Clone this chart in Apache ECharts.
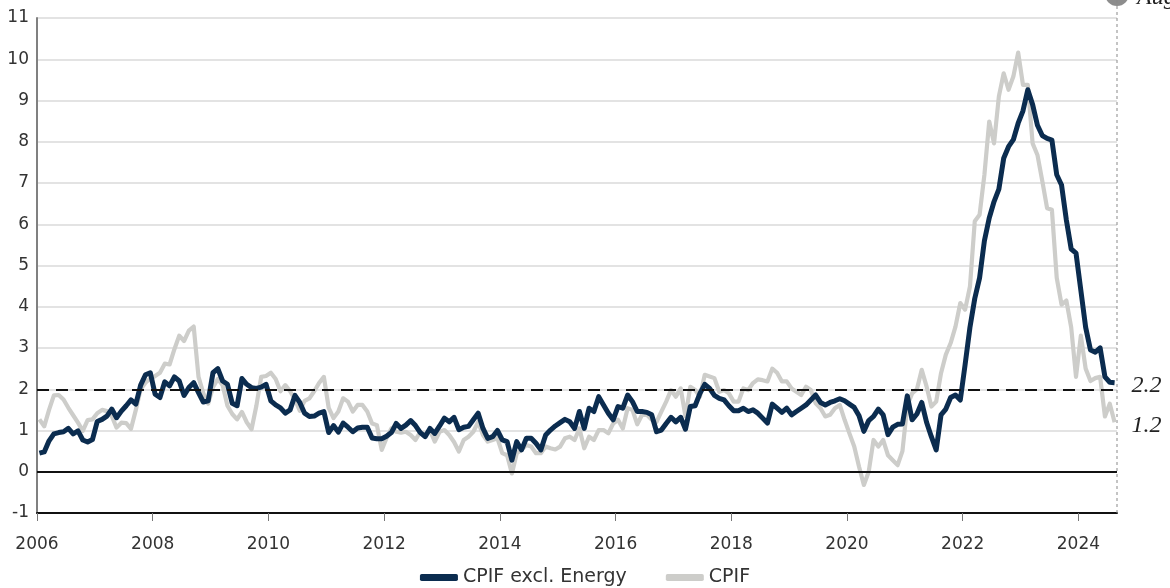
<!DOCTYPE html>
<html>
<head>
<meta charset="utf-8">
<script src="https://cdn.jsdelivr.net/npm/echarts@6/dist/echarts.min.js"></script>
<style>
html,body{margin:0;padding:0;background:#fff;}
#chart{width:1170px;height:588px;}
</style>
</head>
<body>
<div id="chart"></div>
<script>
// Monthly data, Jan 2006 .. Aug 2024 (224 months)
const startYear = 2006;
const seriesNames = ['CPIF excl. Energy', 'CPIF'];
const cpifExclEnergy = [
  0.45,0.48,0.75,0.92,0.95,0.97,1.05,0.92,0.99,0.77,0.72,0.78,
  1.22,1.27,1.35,1.52,1.31,1.47,1.6,1.74,1.64,2.1,2.35,2.4,
  1.88,1.8,2.18,2.08,2.3,2.2,1.85,2.04,2.16,1.92,1.69,1.72,
  2.4,2.5,2.2,2.12,1.66,1.6,2.26,2.12,2.04,2.02,2.05,2.12,
  1.72,1.62,1.55,1.42,1.5,1.85,1.68,1.42,1.34,1.35,1.42,1.46,
  0.95,1.12,0.96,1.18,1.08,0.97,1.06,1.08,1.08,0.82,0.8,0.8,
  0.86,0.95,1.17,1.05,1.13,1.24,1.12,0.95,0.85,1.05,0.93,1.11,
  1.3,1.21,1.32,1.02,1.08,1.1,1.26,1.42,1.05,0.81,0.85,1.0,
  0.77,0.73,0.28,0.73,0.53,0.81,0.81,0.69,0.53,0.89,1.01,1.11,
  1.19,1.27,1.21,1.05,1.46,1.05,1.54,1.46,1.82,1.62,1.42,1.26,
  1.58,1.54,1.86,1.7,1.46,1.46,1.44,1.38,0.97,1.01,1.17,1.32,
  1.21,1.32,1.03,1.58,1.6,1.9,2.12,2.02,1.85,1.78,1.74,1.6,
  1.48,1.48,1.54,1.46,1.5,1.42,1.3,1.18,1.64,1.54,1.44,1.54,
  1.38,1.46,1.54,1.62,1.74,1.86,1.68,1.62,1.68,1.72,1.77,1.72,
  1.64,1.56,1.36,0.98,1.24,1.34,1.52,1.38,0.9,1.08,1.15,1.16,
  1.84,1.26,1.4,1.68,1.2,0.85,0.53,1.38,1.52,1.8,1.86,1.74,
  2.6,3.5,4.2,4.7,5.6,6.15,6.55,6.85,7.6,7.88,8.05,8.45,
  8.75,9.26,8.9,8.4,8.15,8.08,8.04,7.2,6.95,6.1,5.4,5.3,
  4.4,3.5,2.95,2.9,3.0,2.3,2.17,2.16
];
const cpif = [
  1.27,1.1,1.5,1.85,1.86,1.75,1.55,1.37,1.19,0.99,1.25,1.27,
  1.42,1.5,1.47,1.35,1.07,1.19,1.18,1.04,1.5,2.0,2.16,2.26,
  2.32,2.4,2.62,2.6,2.97,3.3,3.17,3.42,3.52,2.3,1.9,1.65,
  2.05,2.25,2.1,1.6,1.4,1.27,1.45,1.2,1.03,1.6,2.3,2.32,
  2.4,2.25,1.95,2.1,1.95,1.75,1.48,1.72,1.78,1.95,2.15,2.3,
  1.55,1.3,1.46,1.78,1.7,1.46,1.62,1.62,1.46,1.17,1.13,0.53,
  0.82,1.05,0.97,0.95,0.97,0.89,0.77,0.97,0.89,1.01,0.73,0.97,
  1.01,0.89,0.72,0.49,0.77,0.85,0.97,1.21,0.89,0.73,0.77,0.81,
  0.45,0.4,-0.04,0.45,0.53,0.65,0.61,0.45,0.45,0.61,0.57,0.54,
  0.61,0.81,0.85,0.77,1.05,0.57,0.85,0.77,1.01,1.01,0.93,1.17,
  1.26,1.05,1.54,1.5,1.15,1.38,1.38,1.26,1.21,1.46,1.7,1.98,
  1.82,2.02,1.34,2.06,1.98,1.82,2.35,2.31,2.27,1.94,1.98,1.9,
  1.7,1.7,2.02,1.98,2.15,2.24,2.22,2.19,2.5,2.4,2.19,2.19,
  2.02,1.94,1.86,2.06,1.98,1.66,1.54,1.34,1.38,1.54,1.62,1.26,
  0.93,0.61,0.12,-0.32,0.0,0.77,0.61,0.77,0.4,0.28,0.16,0.5,
  1.6,1.9,2.0,2.47,2.07,1.58,1.7,2.39,2.84,3.12,3.52,4.09,
  3.93,4.49,6.07,6.23,7.2,8.49,7.96,9.1,9.66,9.26,9.58,10.16,
  9.38,9.38,7.96,7.68,7.05,6.39,6.35,4.7,4.05,4.15,3.5,2.3,
  3.3,2.5,2.2,2.27,2.3,1.34,1.65,1.2
];
const xTickValues = [2006,2008,2010,2012,2014,2016,2018,2020,2022,2024];
const yTickLabels = [-1,0,1,2,3,4,5,6,7,8,9,10,11];
const targetLine = 2;
const latestLabel = 'Aug 2024';

const nMonths = cpif.length;
const xMax = startYear + nMonths / 12;
function toXY(arr){ return arr.map((v,i)=>[startYear + (i + 0.5)/12, v]); }

const DARK = '#0b2c4f', GREY = '#cdcdca';
const SANS = 'DejaVu Sans';
const SERIF = 'Liberation Serif';

const chart = echarts.init(document.getElementById('chart'), null, {renderer:'canvas'});
const endLabelStyle = {
  show: true, distance: 17, offset: [0, 3],
  fontFamily: SERIF, fontStyle: 'italic', fontSize: 24, color: '#222',
  formatter: p => p.value[1].toFixed(1)
};
chart.setOption({
  animation: false,
  grid: {left: 37, right: 53, top: 18, bottom: 75, containLabel: false},
  legend: {
    data: seriesNames, top: 563, left: 'center',
    icon: 'roundRect', itemWidth: 38, itemHeight: 7, itemGap: 39,
    textStyle: {fontFamily: SANS, fontSize: 19, color: '#333'}
  },
  xAxis: {
    type: 'value', min: startYear, max: xMax,
    axisLine: {onZero: false, lineStyle: {color: '#111', width: 2}},
    axisTick: {show: true, length: 8, customValues: xTickValues, lineStyle: {color: '#777', width: 1}},
    axisLabel: {customValues: xTickValues, formatter: v => String(v), margin: 23,
      fontFamily: SANS, fontSize: 17, color: '#333'},
    splitLine: {show: false}
  },
  yAxis: {
    type: 'value', min: yTickLabels[0], max: yTickLabels[yTickLabels.length-1], interval: 1,
    axisLine: {show: true, lineStyle: {color: '#808080', width: 2}},
    axisTick: {show: false},
    axisLabel: {margin: 8, fontFamily: SANS, fontSize: 17, color: '#333'},
    splitLine: {show: true, lineStyle: {color: '#dadada', width: 1.5}}
  },
  series: [
    {
      name: seriesNames[1], type: 'line', data: toXY(cpif), showSymbol: false, symbol: 'none',
      lineStyle: {color: GREY, width: 4.2, join: 'round'}, itemStyle: {color: GREY},
      endLabel: endLabelStyle, z: 2,
      markLine: {
        silent: true, symbol: ['none','none'], label: {show: false},
        data: [
          {yAxis: 0, lineStyle: {color: '#111', type: 'solid', width: 2}},
          {yAxis: targetLine, lineStyle: {color: '#111', type: [12,7], width: 2}}
        ]
      }
    },
    {
      name: seriesNames[0], type: 'line', data: toXY(cpifExclEnergy), showSymbol: false, symbol: 'none',
      lineStyle: {color: DARK, width: 5, join: 'round'}, itemStyle: {color: DARK},
      endLabel: endLabelStyle, z: 3
    }
  ]
});

// right-edge latest-date marker, positioned through the chart's scales
const xr = chart.convertToPixel({xAxisIndex: 0}, xMax);
const yBottom = chart.convertToPixel({yAxisIndex: 0}, yTickLabels[0]);
chart.setOption({
  graphic: [
    {type: 'line', silent: true, z: 1,
     shape: {x1: xr, y1: 0, x2: xr, y2: yBottom},
     style: {stroke: '#8a8a8a', lineWidth: 1, lineDash: [3,3]}},
    {type: 'circle', silent: true, shape: {cx: xr, cy: -6, r: 12}, style: {fill: '#8d8d8d'}},
    {type: 'text', silent: true, x: xr + 20, y: 10,
     style: {text: latestLabel, font: 'italic 24px "Liberation Serif"', fill: '#222', verticalAlign: 'bottom', align: 'left'}}
  ]
});
</script>
</body>
</html>
